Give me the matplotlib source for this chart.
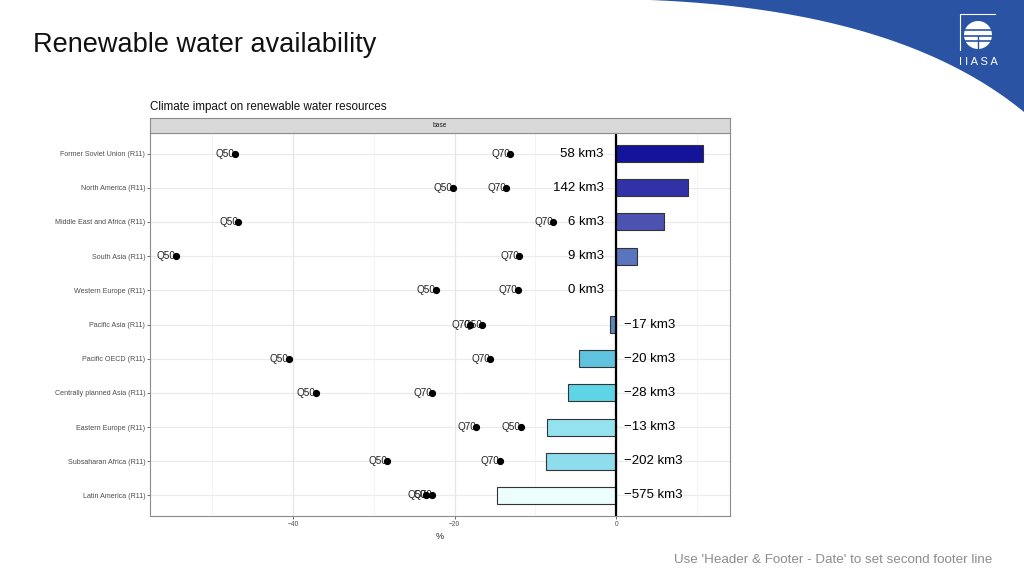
import matplotlib.pyplot as plt
import matplotlib.patches as mpatches
import numpy as np

plt.rcParams['font.family'] = ['Liberation Sans', 'DejaVu Sans']

# ------------- Donnees --------------
regions = ['Former Soviet Union (R11)', 'North America (R11)', 'Middle East and Africa (R11)',
           'South Asia (R11)', 'Western Europe (R11)', 'Pacific Asia (R11)', 'Pacific OECD (R11)',
           'Centrally planned Asia (R11)', 'Eastern Europe (R11)', 'Subsaharan Africa (R11)',
           'Latin America (R11)']
q50 = [-47.2, -20.2, -46.8, -54.5, -22.3, -16.6, -40.5, -37.2, -11.8, -28.3, -23.5]
q70 = [-13.1, -13.6, -7.8, -12.0, -12.2, -18.1, -15.6, -22.8, -17.3, -14.4, -22.8]
change = [10.8, 8.9, 5.9, 2.6, 0.0, -0.7, -4.6, -5.9, -8.5, -8.7, -14.7]
volume = ['58 km3', '142 km3', '6 km3', '9 km3', '0 km3', '\u221217 km3', '\u221220 km3',
          '\u221228 km3', '\u221213 km3', '\u2212202 km3', '\u2212575 km3']
bar_colors = ['#14149b', '#3232a8', '#4b52b0', '#5a74bd', '#5a74bd', '#5a88c0', '#5fc2df',
              '#5fd4e6', '#94e1f0', '#8edcec', '#ebfdfd']

fig = plt.figure(figsize=(10.24, 5.76), dpi=100)


def fx(x):
    return x / 1024


def fy(y):
    return 1 - y / 576


# ------------- Diapositive --------------
# bandeau bleu en haut a droite
def bez(p0, p1, p2, t):
    return (1 - t) ** 2 * p0 + 2 * (1 - t) * t * p1 + t ** 2 * p2


t = np.linspace(0, 1, 60)
cx = bez(650, 900, 1024, t)
cy = bez(0, 10, 112, t)
pts = [(fx(x), fy(y)) for x, y in zip(cx, cy)] + [(1, 1)]
fig.patches.append(mpatches.Polygon(pts, closed=True, transform=fig.transFigure,
                                    facecolor='#2a54a3', edgecolor='none', zorder=0))

# logo IIASA (approximatif)
fig.add_artist(plt.Line2D([fx(960), fx(960), fx(995)], [fy(50), fy(14), fy(14)],
                          transform=fig.transFigure, color='white', lw=0.8))
fig.patches.append(mpatches.Ellipse((fx(978), fy(35)), 28 / 1024, 28 / 576,
                                    transform=fig.transFigure, facecolor='white',
                                    edgecolor='none'))
for yy in [30, 36, 41]:
    fig.add_artist(plt.Line2D([fx(962), fx(994)], [fy(yy), fy(yy)], transform=fig.transFigure,
                              color='#2a54a3', lw=1.2))
fig.add_artist(plt.Line2D([fx(978), fx(978)], [fy(36), fy(50)], transform=fig.transFigure,
                          color='#2a54a3', lw=1.0))
fig.text(fx(978), fy(62), 'I I A S A', color='white', fontsize=8, ha='center', va='center')

fig.text(fx(33), fy(45), 'Renewable water availability', fontsize=19.5, color='#111111',
         ha='left', va='center')
fig.text(fx(992), fy(560), "Use 'Header & Footer - Date' to set second footer line",
         fontsize=9.6, color='#8c8c8c', ha='right', va='center')

# ------------- Graphique --------------
ax = fig.add_axes([fx(150), fy(516), 580 / 1024, 383 / 576])
y = np.arange(len(regions))[::-1] + 1

ax.set_xlim(-57.7, 14.1)
ax.set_ylim(0.4, 11.6)

for v in [-50, -30, -10, 10]:
    ax.axvline(v, color='#f0f0f0', lw=0.5, zorder=0)
for v in [-40, -20, 0]:
    ax.axvline(v, color='#e6e6e6', lw=0.9, zorder=0)
for yy in y:
    ax.axhline(yy, color='#ebebeb', lw=0.9, zorder=0)

ax.barh(y, change, height=0.5, color=bar_colors, edgecolor='#333333', lw=0.8, zorder=2)
ax.axvline(0, color='black', lw=1.6, zorder=3)

for i in range(len(regions)):
    ax.plot(q70[i], y[i], 'o', color='black', ms=4.2, zorder=4)
    ax.annotate('Q70', (q70[i], y[i]), ha='right', va='center', fontsize=7.2, color='#222222',
                zorder=3)
    ax.plot(q50[i], y[i], 'o', color='black', ms=4.2, zorder=4)
    ax.annotate('Q50', (q50[i], y[i]), ha='right', va='center', fontsize=7.2, color='#222222',
                zorder=3)
    if change[i] >= 0:
        ax.annotate(volume[i], (0, y[i]), xytext=(-9, 0), textcoords='offset points',
                    ha='right', va='center', fontsize=9.5, color='black')
    else:
        ax.annotate(volume[i], (0, y[i]), xytext=(6, 0), textcoords='offset points',
                    ha='left', va='center', fontsize=9.5, color='black')

ax.set_yticks(y)
ax.set_yticklabels(regions, fontsize=5.1, color='#4d4d4d')
ax.set_xticks([-40, -20, 0])
ax.set_xticklabels(['\u221240', '\u221220', '0'], fontsize=4.8, color='#4d4d4d')
ax.tick_params(length=2, width=0.5, color='#333333', pad=1.5)
ax.set_xlabel('%', fontsize=6.5, color='#222222', labelpad=3)
for s in ax.spines.values():
    s.set_color('#8c8c8c')
    s.set_linewidth(0.8)

# bandeau "base"
strip = fig.add_axes([fx(150), fy(133), 580 / 1024, 15 / 576])
strip.set_facecolor('#d9d9d9')
strip.set_xticks([])
strip.set_yticks([])
for s in strip.spines.values():
    s.set_color('#8c8c8c')
    s.set_linewidth(0.8)
strip.text(0.5, 0.5, 'base', fontsize=4.8, color='#1a1a1a', ha='center', va='center',
           transform=strip.transAxes)

fig.text(fx(150), fy(107), 'Climate impact on renewable water resources', fontsize=8.4,
         color='#111111', ha='left', va='center')

fig.savefig('out.png', dpi=100)
